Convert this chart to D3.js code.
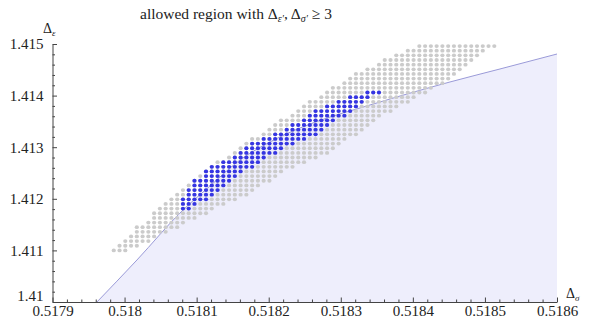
<!DOCTYPE html>
<html>
<head>
<meta charset="utf-8">
<script src="https://cdn.jsdelivr.net/npm/d3@7"></script>
<style>
  html, body { margin: 0; padding: 0; background: #fff; }
  svg { display: block; }
  text { font-family: "Liberation Serif", "DejaVu Serif", serif; fill: #222; }
</style>
</head>
<body>
<svg id="chart" width="591" height="320"></svg>
<script>
// ---- data ----
const xTicks = [0.5179, 0.518, 0.5181, 0.5182, 0.5183, 0.5184, 0.5185, 0.5186];
const yTicks = [1.41, 1.411, 1.412, 1.413, 1.414, 1.415];

// boundary of the shaded (excluded) region
const boundaryX = [0.5179617, 0.5180172, 0.5180797, 0.5181185, 0.5181602, 0.5182018, 0.5182434,
                   0.5182850, 0.5183267, 0.5183822, 0.5184515, 0.5185209, 0.5186];
const boundaryY = [1.410000, 1.410814, 1.411764, 1.412248, 1.412752, 1.413101, 1.413372,
                   1.413585, 1.413760, 1.413992, 1.414264, 1.414516, 1.414806];

// scan grid: column spacing and origin in Δσ
const gridX0 = 0.517985;
const gridDX = 0.000008;

// rows of the scan (Δε)
const rowY = [1.41100, 1.41109, 1.41118, 1.41127, 1.41136, 1.41145, 1.41154, 1.41163, 1.41172,
              1.41181, 1.41190, 1.41199, 1.41208, 1.41217, 1.41226, 1.41235, 1.41244, 1.41253,
              1.41262, 1.41271, 1.41280, 1.41289, 1.41298, 1.41307, 1.41316, 1.41325, 1.41334,
              1.41343, 1.41352, 1.41361, 1.41370, 1.41379, 1.41388, 1.41397, 1.41406, 1.41415,
              1.41424, 1.41433, 1.41442, 1.41451, 1.41460, 1.41469, 1.41478, 1.41487, 1.41496];

// allowed points (gray): first and last Δσ in each row
const grayFrom = [0.517987, 0.517994, 0.518001, 0.518008, 0.518014, 0.518021, 0.518030, 0.518038,
                  0.518045, 0.518053, 0.518060, 0.518067, 0.518076, 0.518082, 0.518089, 0.518095,
                  0.518102, 0.518112, 0.518120, 0.518130, 0.518142, 0.518152, 0.518160, 0.518170,
                  0.518181, 0.518191, 0.518199, 0.518209, 0.518220, 0.518230, 0.518239, 0.518250,
                  0.518261, 0.518271, 0.518282, 0.518293, 0.518303, 0.518313, 0.518324, 0.518336,
                  0.518350, 0.518363, 0.518377, 0.518390, 0.518410];
const grayTo   = [0.518003, 0.518017, 0.518031, 0.518044, 0.518055, 0.518071, 0.518082, 0.518095,
                  0.518110, 0.518124, 0.518139, 0.518153, 0.518167, 0.518177, 0.518189, 0.518198,
                  0.518206, 0.518216, 0.518230, 0.518248, 0.518264, 0.518278, 0.518289, 0.518300,
                  0.518309, 0.518318, 0.518327, 0.518335, 0.518341, 0.518353, 0.518368, 0.518379,
                  0.518390, 0.518402, 0.518415, 0.518429, 0.518439, 0.518450, 0.518458, 0.518467,
                  0.518474, 0.518482, 0.518492, 0.518500, 0.518510];

// allowed points with extra condition (blue): first and last Δσ in each row (null = none)
const blueFrom = [null, null, null, null, null, null, null, null, null,
                  0.518081, 0.518082, 0.518085, 0.518087, 0.518091, 0.518094, 0.518100, 0.518109,
                  0.518116, 0.518124, 0.518137, 0.518150, 0.518160, 0.518170, 0.518180, 0.518195,
                  0.518211, 0.518224, 0.518235, 0.518248, 0.518257, 0.518268, 0.518282, 0.518296,
                  0.518313, 0.518334,
                  null, null, null, null, null, null, null, null, null, null];
const blueTo   = [null, null, null, null, null, null, null, null, null,
                  0.518088, 0.518098, 0.518109, 0.518120, 0.518128, 0.518138, 0.518146, 0.518156,
                  0.518164, 0.518175, 0.518185, 0.518195, 0.518206, 0.518218, 0.518232, 0.518250,
                  0.518263, 0.518271, 0.518282, 0.518293, 0.518302, 0.518310, 0.518318, 0.518329,
                  0.518339, 0.518352,
                  null, null, null, null, null, null, null, null, null, null];

// ---- drawing ----
const svg = d3.select("#chart");
const x = d3.scaleLinear().domain([0.5179, 0.5186]).range([52.5, 557]);
const y = d3.scaleLinear().domain([1.41, 1.415]).range([302, 44]);

// shaded region
const bnd = boundaryX.map((v, i) => [v, boundaryY[i]]);
const area = d3.area().x(d => x(d[0])).y0(y(1.41)).y1(d => y(d[1])).curve(d3.curveMonotoneX);
svg.append("path").datum(bnd).attr("d", area).attr("fill", "#eeeefc");
const line = d3.line().x(d => x(d[0])).y(d => y(d[1])).curve(d3.curveMonotoneX);
svg.append("path").datum(bnd).attr("d", line).attr("fill", "none")
   .attr("stroke", "#9a9ad8").attr("stroke-width", 1);

// points
function rowPoints(from, to, yv) {
  const pts = [];
  if (from == null) return pts;
  const i0 = Math.ceil((from - gridX0) / gridDX - 0.5);
  const i1 = Math.floor((to - gridX0) / gridDX + 0.5);
  for (let i = i0; i <= i1; i++) pts.push([gridX0 + i * gridDX, yv]);
  return pts;
}
const grayPts = [], bluePts = [];
rowY.forEach((yv, k) => {
  grayPts.push(...rowPoints(grayFrom[k], grayTo[k], yv));
  bluePts.push(...rowPoints(blueFrom[k], blueTo[k], yv));
});
svg.append("g").selectAll("ellipse").data(grayPts).join("ellipse")
   .attr("cx", d => x(d[0])).attr("cy", d => y(d[1]))
   .attr("rx", 2.1).attr("ry", 1.9).attr("fill", "#cbcbcb");
svg.append("g").selectAll("ellipse").data(bluePts).join("ellipse")
   .attr("cx", d => x(d[0])).attr("cy", d => y(d[1]))
   .attr("rx", 2.1).attr("ry", 1.9).attr("fill", "#3535e4");

// axes
const minorX = [];
for (let i = 0; i < xTicks.length - 1; i++)
  for (let j = 1; j < 5; j++) minorX.push(xTicks[i] + (xTicks[i + 1] - xTicks[i]) * j / 5);
const minorY = [];
for (let i = 0; i < yTicks.length - 1; i++)
  for (let j = 1; j < 5; j++) minorY.push(yTicks[i] + (yTicks[i + 1] - yTicks[i]) * j / 5);

const gx = svg.append("g").attr("transform", `translate(0,${y(1.41)})`)
  .call(d3.axisBottom(x).tickValues(xTicks).tickSizeInner(-4.5).tickSizeOuter(0).tickPadding(3)
        .tickFormat(d => String(+d.toFixed(4))));
svg.append("g").attr("transform", `translate(0,${y(1.41)})`)
  .call(d3.axisBottom(x).tickValues(minorX).tickSizeInner(-2.5).tickSizeOuter(0).tickFormat(""))
  .call(g => g.select(".domain").remove());
const gy = svg.append("g").attr("transform", `translate(${x(0.5179)},0)`)
  .call(d3.axisLeft(y).tickValues(yTicks).tickSizeInner(-4.5).tickSizeOuter(0).tickPadding(9)
        .tickFormat(d => String(+d.toFixed(3))));
svg.append("g").attr("transform", `translate(${x(0.5179)},0)`)
  .call(d3.axisLeft(y).tickValues(minorY).tickSizeInner(-2.5).tickSizeOuter(0).tickFormat(""))
  .call(g => g.select(".domain").remove());

svg.selectAll(".domain").attr("stroke", "#444");
svg.selectAll(".tick line").attr("stroke", "#444");
svg.selectAll(".tick text").style("font-family", "'Liberation Serif', serif")
   .style("font-size", "15px").attr("fill", "#222");
gx.selectAll(".tick text").attr("dy", "0.7em");
// the lowest y label sits slightly raised so it clears the x labels
gy.selectAll(".tick text").filter(d => d === 1.41).attr("dy", "-0.08em");

// axis labels
const lab = svg.append("text").attr("x", 43).attr("y", 33).style("font-size", "14px");
lab.append("tspan").text("Δ");
lab.append("tspan").attr("dy", 3).style("font-size", "9px").style("font-style", "italic").text("ε");
const lab2 = svg.append("text").attr("x", 566).attr("y", 298).style("font-size", "14px");
lab2.append("tspan").text("Δ");
lab2.append("tspan").attr("dy", 2.5).style("font-size", "9px").style("font-style", "italic").text("σ");

// title
const t = svg.append("text").attr("x", 140).attr("y", 19).style("font-size", "15.5px");
t.append("tspan").text("allowed region with Δ");
t.append("tspan").attr("dy", 3).style("font-size", "10px").style("font-style", "italic").text("ε′");
t.append("tspan").attr("dy", -3).text(", Δ");
t.append("tspan").attr("dy", 3).style("font-size", "10px").style("font-style", "italic").text("σ′");
t.append("tspan").attr("dy", -3).text(" ≥ 3");
</script>
</body>
</html>
